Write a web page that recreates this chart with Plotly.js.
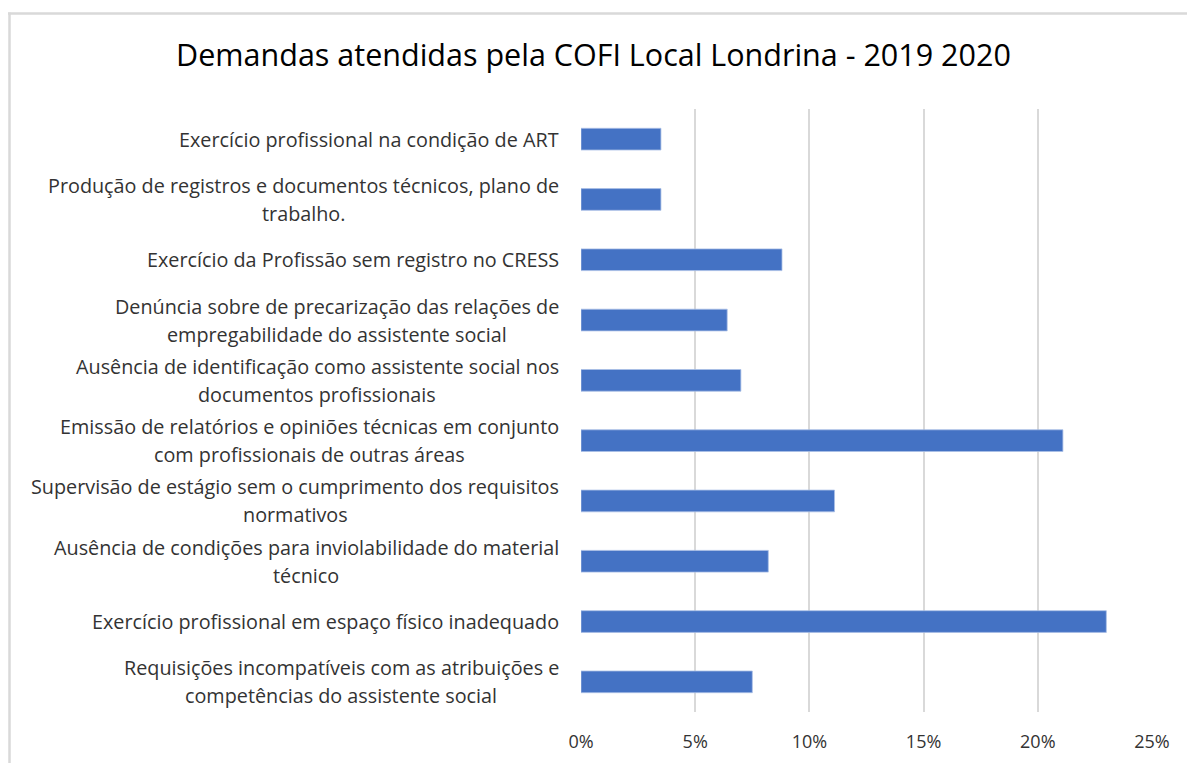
<!DOCTYPE html>
<html>
<head>
<meta charset="utf-8">
<script src="https://cdn.plot.ly/plotly-3.0.1.min.js"></script>
<style>html,body{margin:0;padding:0;background:#fff;}</style>
</head>
<body>
<div id="chart" style="width:1187px;height:763px;"></div>
<script>
// Categories, top to bottom (each label split into its display lines)
const categoryLines = [
  ["Exercício profissional na condição de ART"],
  ["Produção de registros e documentos técnicos, plano de", "trabalho."],
  ["Exercício da Profissão sem registro no CRESS"],
  ["Denúncia sobre de precarização das relações de", "empregabilidade do assistente social"],
  ["Ausência de identificação como assistente social nos", "documentos profissionais"],
  ["Emissão de relatórios e opiniões técnicas em conjunto", "com profissionais de outras áreas"],
  ["Supervisão de estágio sem o cumprimento dos requisitos", "normativos"],
  ["Ausência de condições para inviolabilidade do material", "técnico"],
  ["Exercício profissional em espaço físico inadequado"],
  ["Requisições incompatíveis com as atribuições e", "competências do assistente social"]
];
const categories = categoryLines.map(l => l.join(" "));
const values = [0.035, 0.035, 0.088, 0.064, 0.070, 0.211, 0.111, 0.082, 0.230, 0.075];
const tickValues = [0, 0.05, 0.10, 0.15, 0.20, 0.25];
const tickLabels = ["0%", "5%", "10%", "15%", "20%", "25%"];
const chartTitle = "Demandas atendidas pela COFI Local Londrina - 2019 2020";

const W = 1187, H = 763;
const M = {l: 581, r: 35, t: 109, b: 51};
const pw = W - M.l - M.r, ph = H - M.t - M.b;
const px2x = p => (p - M.l) / pw;
const py2y = p => 1 - (p - M.t) / ph;

const FONT = "'Open Sans', sans-serif";
const LBL_SIZE = 19.8;
const RIGHT = 559, GAP = 14;

const ctx = document.createElement("canvas").getContext("2d");
const textW = s => ctx.measureText(s).width;

const trace = {
  type: "bar", orientation: "h",
  y: categories, x: values,
  marker: {color: "#4472c4", line: {color: "#a9bfe6", width: 0.8}},
  width: 0.36,
  hoverinfo: "x+y"
};

function buildAnnotations() {
  ctx.font = LBL_SIZE + "px 'Open Sans'";
  const out = [];
  categoryLines.forEach((lines, i) => {
    const n = lines.length;
    const blockW = Math.max(...lines.map(textW));
    const cx = RIGHT - blockW / 2;
    lines.forEach((txt, j) => {
      out.push({
        x: px2x(cx), xref: "paper", y: categories[i], yref: "y",
        xanchor: "center", yanchor: "middle",
        text: txt, showarrow: false,
        yshift: n === 1 ? 0 : (j === 0 ? GAP : -GAP),
        font: {family: FONT, size: LBL_SIZE, color: "#333333"}
      });
    });
  });
  return out;
}

function draw() {
  const layout = {
    width: W, height: H,
    margin: M,
    paper_bgcolor: "#fff", plot_bgcolor: "#fff",
    showlegend: false,
    title: {text: chartTitle, x: 0.5, xref: "container", xanchor: "center", y: 1 - 55/H, yanchor: "middle",
            font: {family: FONT, size: 30.5, color: "#000"}},
    xaxis: {
      range: [0, 0.25], tickvals: tickValues, ticktext: tickLabels,
      showgrid: true, gridcolor: "#d9d9d9", gridwidth: 2,
      zeroline: false, showline: false, ticks: "",
      ticklabelstandoff: 17,
      tickfont: {family: FONT, size: 18, color: "#333333"}, fixedrange: true
    },
    yaxis: {
      type: "category", categoryorder: "array", categoryarray: categories,
      autorange: "reversed", showticklabels: false, showgrid: false,
      zeroline: false, showline: false, ticks: "", fixedrange: true
    },
    annotations: buildAnnotations(),
    shapes: [
      {type: "line", xref: "paper", yref: "paper", x0: px2x(8), x1: px2x(1190), y0: py2y(13.5), y1: py2y(13.5),
       line: {color: "#d9d9d9", width: 2.5}},
      {type: "line", xref: "paper", yref: "paper", x0: px2x(9.5), x1: px2x(9.5), y0: py2y(12.5), y1: py2y(770),
       line: {color: "#d9d9d9", width: 2.5}}
    ]
  };
  Plotly.newPlot("chart", [trace], layout, {displayModeBar: false, staticPlot: true});
}

document.fonts.load(LBL_SIZE + "px 'Open Sans'").then(draw, draw);
</script>
</body>
</html>
